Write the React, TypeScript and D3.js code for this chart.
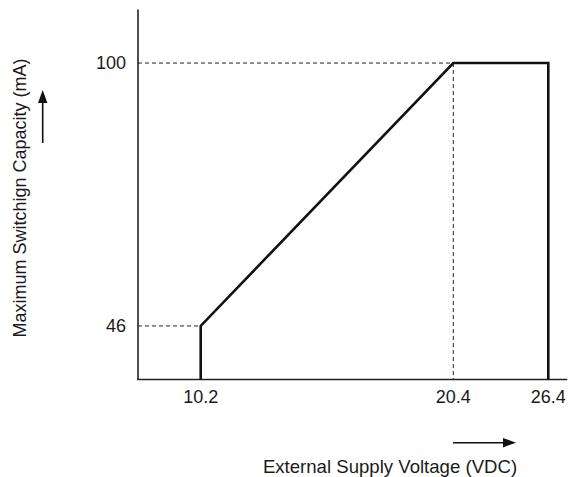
import React from "react";
import * as d3 from "d3";

// tick values
const voltageTicks = [10.2, 20.4, 26.4];
const capacityTicks = [46, 100];

// the operating curve (bottom -> 46 mA at 10.2 V -> 100 mA at 20.4 V -> 26.4 V cut-off)
const curveVoltage = [10.2, 10.2, 20.4, 26.4, 26.4];
const curveCapacity = [35, 46, 100, 100, 35];

// dashed guide lines
const guideVoltage = [10.2, 20.4];
const guideCapacity = [46, 100];

const width = 573;
const height = 477;
const font = "'Liberation Sans', Arial, Helvetica, sans-serif";

export default function App() {
  // the x axis of the original drawing is not to scale, so it is piecewise
  const x = d3
    .scaleLinear()
    .domain([7.65, 10.2, 20.4, 26.4, 27.6])
    .range([138, 200.7, 453.3, 548.3, 567.3]);
  const y = d3.scaleLinear().domain([35, 111]).range([379.5, 9.5]);

  const x0 = x(7.65);
  const x1 = x(27.6);
  const yBottom = y(35);
  const yTop = y(111);

  const line = d3
    .line<number>()
    .x((d, i) => x(curveVoltage[i]))
    .y((d) => y(d));

  return (
    <svg
      width={width}
      height={height}
      style={{ position: "absolute", left: 0, top: 0, background: "#fff" }}
      fontFamily={font}
    >
      {/* dashed guides */}
      <g stroke="#222" strokeWidth={1} strokeDasharray="4,3" fill="none">
        <line x1={x0} x2={x(guideVoltage[0])} y1={y(guideCapacity[0])} y2={y(guideCapacity[0])} />
        <line x1={x0} x2={x(guideVoltage[1])} y1={y(guideCapacity[1])} y2={y(guideCapacity[1])} />
        <line x1={x(guideVoltage[1])} x2={x(guideVoltage[1])} y1={y(guideCapacity[1])} y2={yBottom} />
      </g>

      {/* axes */}
      <g stroke="#222" strokeWidth={1.6} fill="none">
        <line x1={x0} x2={x0} y1={yTop} y2={yBottom} />
        <line x1={x0 - 0.8} x2={x1} y1={yBottom} y2={yBottom} />
      </g>

      {/* curve */}
      <path
        d={line(curveCapacity) || ""}
        fill="none"
        stroke="#111"
        strokeWidth={2.6}
        strokeLinejoin="miter"
      />

      {/* tick labels */}
      <g fontSize={18} fill="#1a1a1a">
        {voltageTicks.map((v) => (
          <text key={v} x={x(v)} y={403} textAnchor="middle">
            {v.toFixed(1)}
          </text>
        ))}
        {capacityTicks.map((c) => (
          <text key={c} x={126} y={y(c)} dy="0.35em" textAnchor="end">
            {c}
          </text>
        ))}
      </g>

      {/* axis titles */}
      <text x={390} y={473} fontSize={18.6} fill="#1a1a1a" textAnchor="middle">
        External Supply Voltage (VDC)
      </text>
      <text
        transform="translate(26,198) rotate(-90)"
        fontSize={18}
        fill="#1a1a1a"
        textAnchor="middle"
      >
        Maximum Switchign Capacity (mA)
      </text>

      {/* direction arrows */}
      <g stroke="#111" strokeWidth={1.6} fill="#111">
        <line x1={453} x2={506} y1={442.7} y2={442.7} />
        <path d="M516,442.7 L503,438 L503,447.4 Z" stroke="none" />
        <line x1={42.7} x2={42.7} y1={143} y2={100} />
        <path d="M42.7,90 L38,103 L47.4,103 Z" stroke="none" />
      </g>
    </svg>
  );
}
